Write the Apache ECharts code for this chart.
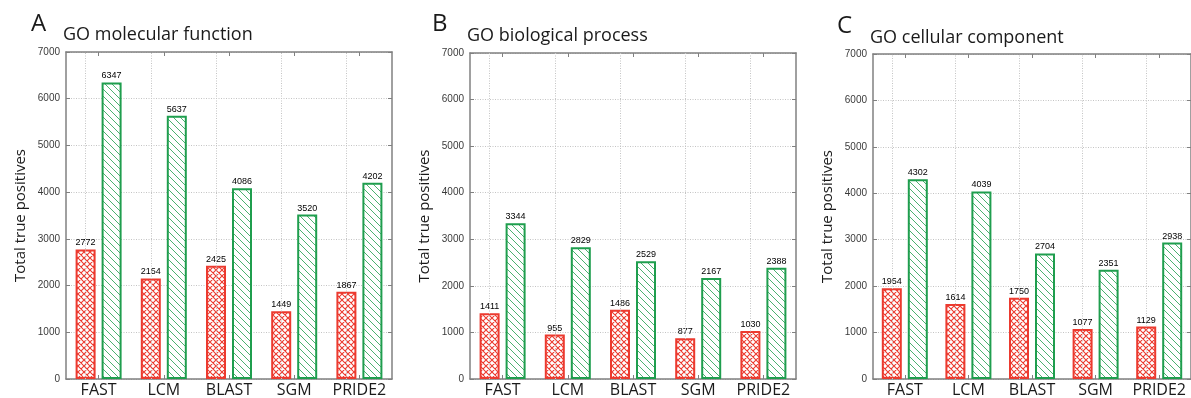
<!DOCTYPE html>
<html>
<head>
<meta charset="utf-8">
<script src="https://cdn.jsdelivr.net/npm/echarts@6/dist/echarts.min.js"></script>
<style>
  html, body { margin: 0; padding: 0; background: #fff; }
  #chart { width: 1191px; height: 398px; }
</style>
</head>
<body>
<div id="chart"></div>
<script>
// ---- data ----
const categories = ['FAST', 'LCM', 'BLAST', 'SGM', 'PRIDE2'];
const panelLetters = ['A', 'B', 'C'];
const panelTitles = ['GO molecular function', 'GO biological process', 'GO cellular component'];
const yAxisName = 'Total true positives';

const molecularRed = [2772, 2154, 2425, 1449, 1867];
const molecularGreen = [6347, 5637, 4086, 3520, 4202];
const biologicalRed = [1411, 955, 1486, 877, 1030];
const biologicalGreen = [3344, 2829, 2529, 2167, 2388];
const cellularRed = [1954, 1614, 1750, 1077, 1129];
const cellularGreen = [4302, 4039, 2704, 2351, 2938];

const yMin = 0, yMax = 7000, yStep = 1000;

// ---- styling ----
const RED = '#ec3a2f';
const GREEN = '#1f9e4e';
const FRAME = '#808080';
const GRIDLINE = '#c4c4c4';
const TEXT_FONT = 'Open Sans';
const NUM_FONT = 'Liberation Sans';

// panel plot boxes (px)
const layout = [
  { left: 66, top: 52, width: 326, height: 327, letterX: 31, letterY: 12, titleX: 63, titleY: 26 },
  { left: 470, top: 53, width: 326, height: 326, letterX: 432, letterY: 12, titleX: 467, titleY: 27 },
  { left: 873, top: 54, width: 326, height: 326, letterX: 837, letterY: 14, titleX: 870, titleY: 29 }
];

// cross-hatch tile (diamond lattice)
function crossHatch(color) {
  const s = 6;
  const c = document.createElement('canvas');
  c.width = s; c.height = s;
  const g = c.getContext('2d');
  g.fillStyle = '#fff';
  g.fillRect(0, 0, s, s);
  g.strokeStyle = color;
  g.lineWidth = 1.1;
  g.beginPath();
  for (let k = -s; k <= s; k += s) {
    g.moveTo(k, 0); g.lineTo(k + s, s);
    g.moveTo(k + s, 0); g.lineTo(k, s);
  }
  g.stroke();
  return c;
}

// back-slash hatch tile
function slashHatch(color) {
  const s = 7;
  const c = document.createElement('canvas');
  c.width = s; c.height = s;
  const g = c.getContext('2d');
  g.fillStyle = '#fff';
  g.fillRect(0, 0, s, s);
  g.strokeStyle = color;
  g.globalAlpha = 0.8;
  g.lineWidth = 1;
  g.beginPath();
  for (let k = -s; k <= s; k += s) {
    g.moveTo(k, 0); g.lineTo(k + s, s);
  }
  g.stroke();
  return c;
}

const redFill = { image: crossHatch(RED), repeat: 'repeat' };
const greenFill = { image: slashHatch(GREEN), repeat: 'repeat' };

const panelData = [
  [molecularRed, molecularGreen],
  [biologicalRed, biologicalGreen],
  [cellularRed, cellularGreen]
];

const dotted = { color: GRIDLINE, width: 1, type: [1, 1.5] };

const option = {
  animation: false,
  backgroundColor: '#fff',
  title: [],
  grid: [],
  xAxis: [],
  yAxis: [],
  series: []
};

layout.forEach((L, i) => {
  option.title.push({
    text: panelLetters[i], left: L.letterX, top: L.letterY, padding: 0,
    textStyle: { fontFamily: TEXT_FONT, fontSize: 24, fontWeight: 'normal', color: '#1a1a1a' }
  });
  option.title.push({
    text: panelTitles[i], left: L.titleX, top: L.titleY, padding: 0,
    textStyle: { fontFamily: TEXT_FONT, fontSize: 18, fontWeight: 'normal', color: '#1a1a1a' }
  });

  option.grid.push({ left: L.left, top: L.top, width: L.width, height: L.height, containLabel: false });

  const tick = { show: true, inside: true, length: 4, alignWithLabel: true, lineStyle: { color: FRAME, width: 1 } };
  const line = { show: true, onZero: false, lineStyle: { color: FRAME, width: 1.5 } };

  option.xAxis.push({
    gridIndex: i, type: 'category', data: categories, position: 'bottom',
    axisLine: line, axisTick: tick,
    axisLabel: { fontFamily: TEXT_FONT, fontSize: 16, color: '#1a1a1a', margin: 3, interval: 0 },
    splitLine: { show: false }
  });
  option.xAxis.push({
    gridIndex: i, type: 'category', data: categories, position: 'top',
    axisLine: line, axisTick: tick, axisLabel: { show: false }, splitLine: { show: false }
  });

  option.yAxis.push({
    gridIndex: i, type: 'value', min: yMin, max: yMax, interval: yStep, position: 'left',
    name: yAxisName, nameLocation: 'middle', nameGap: 38, nameRotate: 90,
    nameTextStyle: { fontFamily: TEXT_FONT, fontSize: 15, color: '#1a1a1a' },
    axisLine: line,
    axisTick: { show: true, inside: true, length: 4, lineStyle: { color: FRAME, width: 1 } },
    axisLabel: {
      fontFamily: NUM_FONT, fontSize: 10, color: '#3a3a3a', margin: 6,
      formatter: v => String(v)
    },
    splitLine: { show: true, lineStyle: dotted }
  });
  option.yAxis.push({
    gridIndex: i, type: 'value', min: yMin, max: yMax, interval: yStep, position: 'right',
    axisLine: line,
    axisTick: { show: true, inside: true, length: 4, lineStyle: { color: FRAME, width: 1 } },
    axisLabel: { show: false }, splitLine: { show: false }
  });

  const valueLabel = {
    show: true, position: 'top', distance: 2,
    fontFamily: NUM_FONT, fontSize: 9, color: '#000'
  };

  const [redVals, greenVals] = panelData[i];
  option.series.push({
    type: 'bar', xAxisIndex: 2 * i, yAxisIndex: 2 * i,
    data: redVals, barWidth: 20, barGap: '30%',
    itemStyle: { color: redFill, borderColor: RED, borderWidth: 2 },
    label: valueLabel,
    markLine: {
      silent: true, symbol: 'none', label: { show: false },
      lineStyle: dotted, emphasis: { disabled: true },
      data: categories.map(c => ({ xAxis: c }))
    }
  });
  option.series.push({
    type: 'bar', xAxisIndex: 2 * i, yAxisIndex: 2 * i,
    data: greenVals, barWidth: 20, barGap: '30%',
    itemStyle: { color: greenFill, borderColor: GREEN, borderWidth: 2 },
    label: valueLabel
  });
});

const chart = echarts.init(document.getElementById('chart'), null, { renderer: 'canvas' });
chart.setOption(option);
</script>
</body>
</html>
